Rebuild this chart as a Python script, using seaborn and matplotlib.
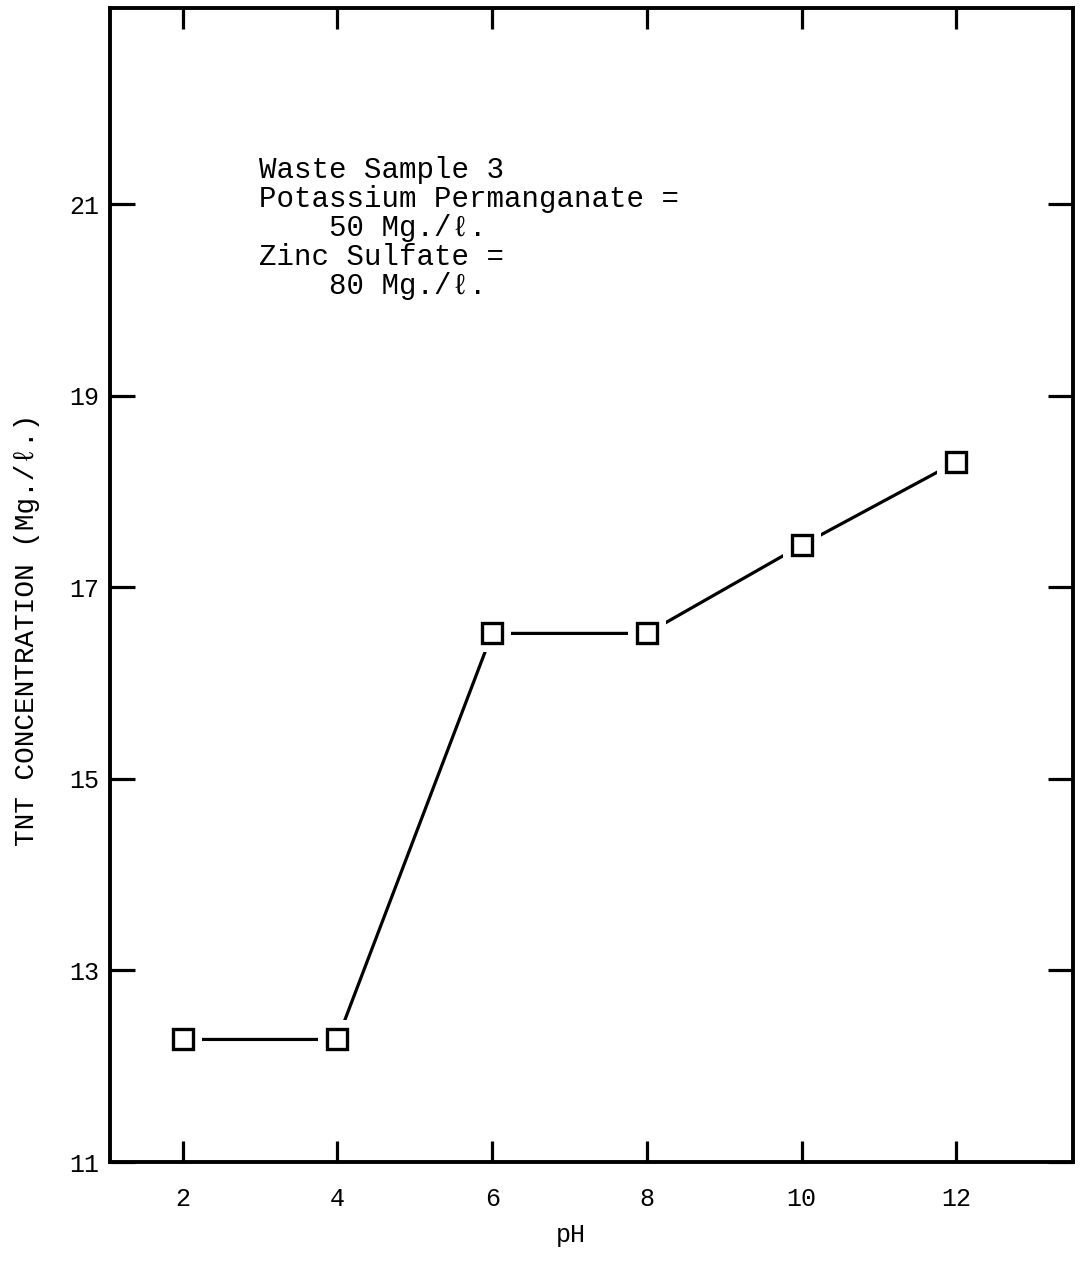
import matplotlib
matplotlib.use("Agg")
import matplotlib.pyplot as plt
import seaborn as sns
import pandas as pd

# Data
ph = [2, 4, 6, 8, 10, 12]
tnt = [12.28, 12.28, 16.52, 16.52, 17.44, 18.31]
x_ticks = [2, 4, 6, 8, 10, 12]
y_ticks = [11, 13, 15, 17, 19, 21]

df = pd.DataFrame({"pH": ph, "TNT": tnt})

sns.set_theme(style="white")
plt.rcParams["font.family"] = ["Liberation Mono", "DejaVu Sans Mono"]

fig = plt.figure(figsize=(10.82, 12.75), dpi=100)
ax = fig.add_axes([0.1017, 0.0886, 0.8900, 0.9051])

# connecting line
sns.lineplot(data=df, x="pH", y="TNT", ax=ax, color="black", linewidth=2.3,
             sort=False, zorder=2)
# white halo so the line stops short of each symbol
sns.lineplot(data=df, x="pH", y="TNT", ax=ax, linestyle="", marker="s",
             markersize=28, markerfacecolor="white", markeredgewidth=0,
             color="white", sort=False, zorder=3)
# open square symbols
sns.lineplot(data=df, x="pH", y="TNT", ax=ax, linestyle="", marker="s",
             markersize=14.8, markerfacecolor="white", markeredgecolor="black",
             markeredgewidth=2.4, color="black", sort=False, zorder=4)

ax.set_xlim(1.06, 13.51)
ax.set_ylim(11, 23.05)
ax.set_xticks(x_ticks)
ax.set_yticks(y_ticks)
ax.set_xticklabels([str(v) for v in x_ticks])
ax.set_yticklabels([str(v) for v in y_ticks])

for s in ax.spines.values():
    s.set_visible(True)
    s.set_color("black")
    s.set_linewidth(2.8)

ax.tick_params(axis="both", which="major", direction="in", width=2.3,
               color="black", top=True, right=True, bottom=True, left=True,
               labeltop=False, labelright=False, labelsize=18, labelcolor="black")
ax.tick_params(axis="x", length=15, pad=18)
ax.tick_params(axis="y", length=18, pad=8)

ax.set_xlabel("pH", fontsize=18, color="black")
ax.xaxis.set_label_coords(0.478, -0.063)
ax.xaxis.label.set_va("center")
ax.set_ylabel("TNT CONCENTRATION (Mg./\u2113.)", fontsize=20, color="black")
ax.yaxis.set_label_coords(-0.086, 0.461)
ax.yaxis.label.set_va("center")

ax.text(0.155, 0.872,
        "Waste Sample 3\nPotassium Permanganate =\n    50 Mg./\u2113.\nZinc Sulfate =\n    80 Mg./\u2113.",
        transform=ax.transAxes, fontsize=21, va="top", ha="left",
        linespacing=1.05, color="black")

ax.grid(False)
fig.savefig("out.png", dpi=100, facecolor="white")
